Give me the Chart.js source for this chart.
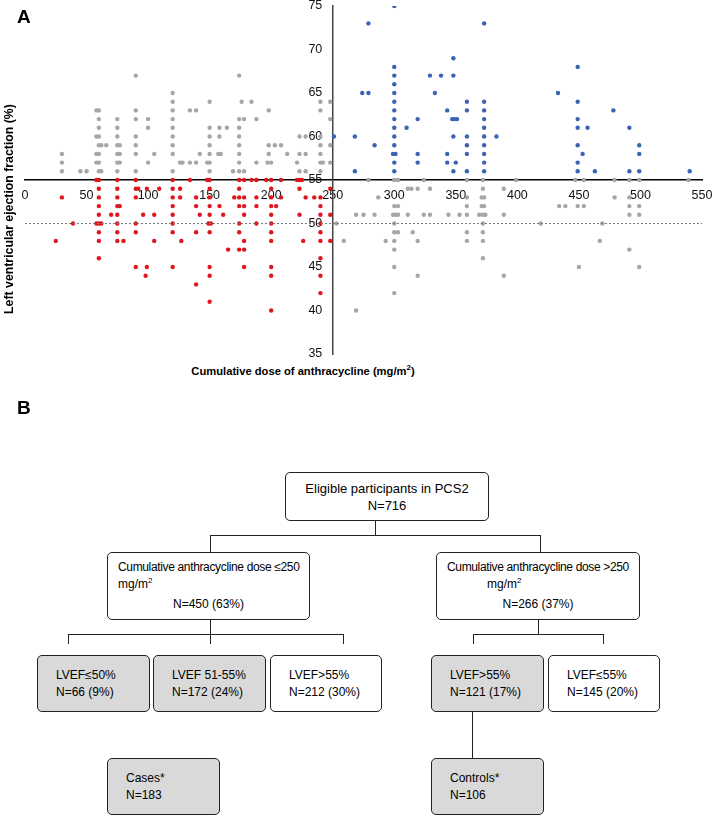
<!DOCTYPE html>
<html>
<head>
<meta charset="utf-8">
<script src="https://cdn.jsdelivr.net/npm/chart.js@4.4.1/dist/chart.umd.min.js"></script>
<style>
  body { margin: 0; background: #fff; font-family: "Liberation Sans", Arial, sans-serif; }
  #page { position: relative; width: 714px; height: 827px; overflow: hidden; }
  #chartBox { position: absolute; left: 0; top: 0; width: 714px; height: 362px; }
  .panel { position: absolute; font-weight: bold; font-size: 19px; }
  .ytitle { position: absolute; left: 9px; top: 209px; transform: translate(-50%, -50%) rotate(-90deg);
            white-space: nowrap; font-weight: bold; font-size: 12.3px; }
  .xtitle { position: absolute; left: 303px; top: 371px; transform: translate(-50%, -50%);
            white-space: nowrap; font-weight: bold; font-size: 11.2px; }
  sup { font-size: 8px; line-height: 0; vertical-align: 5px; }
  .box { position: absolute; box-sizing: border-box; border: 1px solid #222; border-radius: 5px;
         background: #fff; font-size: 12px; line-height: 17px; color: #000; white-space: nowrap;
         display: flex; flex-direction: column; justify-content: center; }
  .box.gray { background: #d9d9d9; }
  .box.center { align-items: center; text-align: center; }
  .box.left { padding-left: 18px; }
  .box.free { display: block; }
  .box.free div { position: absolute; }
  .tight { letter-spacing: -0.35px; }
  .ln { position: absolute; background: #222; }
</style>
</head>
<body>
<div id="page">
  <div id="chartBox"><canvas id="chart" width="714" height="362"></canvas></div>
  <div class="panel" style="left:17px; top:6px;">A</div>
  <div class="ytitle">Left ventricular ejection fraction (%)</div>
  <div class="xtitle">Cumulative dose of anthracycline (mg/m<sup>2</sup>)</div>

  <div class="panel" style="left:17px; top:397px;">B</div>

  <div class="box center" style="left:285px; top:472px; width:204px; height:49px; font-size:13px;">
    <div>Eligible participants in PCS2</div><div>N=716</div>
  </div>
  <div class="ln" style="left:375px; top:521px; width:1px; height:14px;"></div>
  <div class="ln" style="left:210px; top:535px; width:331px; height:1px;"></div>
  <div class="ln" style="left:210px; top:535px; width:1px; height:17px;"></div>
  <div class="ln" style="left:540px; top:535px; width:1px; height:17px;"></div>

  <div class="box free" style="left:107px; top:552px; width:203px; height:68px;">
    <div class="tight" style="left:10px; top:6px;">Cumulative anthracycline dose ≤250</div>
    <div style="left:10px; top:23px;">mg/m<sup>2</sup></div>
    <div style="left:0; width:201px; text-align:center; top:43px;">N=450 (63%)</div>
  </div>
  <div class="box free" style="left:436px; top:552px; width:204px; height:68px;">
    <div class="tight" style="left:10px; top:6px;">Cumulative anthracycline dose &gt;250</div>
    <div style="left:50px; top:23px;">mg/m<sup>2</sup></div>
    <div style="left:0; width:202px; text-align:center; top:43px;">N=266 (37%)</div>
  </div>

  <div class="ln" style="left:210px; top:620px; width:1px; height:14px;"></div>
  <div class="ln" style="left:68px; top:634px; width:276px; height:1px;"></div>
  <div class="ln" style="left:68px; top:634px; width:1px; height:10px;"></div>
  <div class="ln" style="left:210px; top:634px; width:1px; height:10px;"></div>
  <div class="ln" style="left:343px; top:634px; width:1px; height:10px;"></div>

  <div class="ln" style="left:538px; top:620px; width:1px; height:14px;"></div>
  <div class="ln" style="left:473px; top:634px; width:131px; height:1px;"></div>
  <div class="ln" style="left:473px; top:634px; width:1px; height:10px;"></div>
  <div class="ln" style="left:603px; top:634px; width:1px; height:10px;"></div>

  <div class="box gray left" style="left:37px; top:655px; width:113px; height:57px;">
    <div>LVEF≤50%</div><div>N=66 (9%)</div>
  </div>
  <div class="box gray left" style="left:153px; top:655px; width:113px; height:57px;">
    <div>LVEF 51-55%</div><div>N=172 (24%)</div>
  </div>
  <div class="box left" style="left:270px; top:655px; width:112px; height:57px;">
    <div>LVEF&gt;55%</div><div>N=212 (30%)</div>
  </div>
  <div class="box gray left" style="left:431px; top:655px; width:113px; height:57px;">
    <div>LVEF&gt;55%</div><div>N=121 (17%)</div>
  </div>
  <div class="box left" style="left:548px; top:655px; width:112px; height:57px;">
    <div>LVEF≤55%</div><div>N=145 (20%)</div>
  </div>

  <div class="ln" style="left:472px; top:712px; width:1px; height:46px;"></div>

  <div class="box gray left" style="left:107px; top:758px; width:113px; height:57px;">
    <div>Cases*</div><div>N=183</div>
  </div>
  <div class="box gray left" style="left:431px; top:758px; width:113px; height:57px;">
    <div>Controls*</div><div>N=106</div>
  </div>
</div>

<script>
// axis settings
const xMin = 0, xMax = 550, xStep = 50;
const yMin = 35, yMax = 75, yStep = 5;
const doseCut = 250;     // vertical axis crosses here
const lvefCut = 55;      // horizontal axis crosses here
const lvefRefLine = 50;  // dotted line

// dose <=250, LVEF >55  (grey)
const lowDoseHighEF = [
  [30,56],[30,57],[30,58],[45,56],[50,56],
  [58,63],[60,63],[60,62],[60,61],[58,60],[60,60],[60,59],[62,59],[66,59],[58,58],[60,58],[58,57],[60,57],[60,56],[62,56],
  [75,62],[75,61],[75,60],[75,59],[77,59],[75,58],[77,58],[75,57],[77,57],[75,56],
  [90,67],[90,63],[90,62],[90,60],[90,59],[90,58],[90,56],
  [100,62],[100,61],[100,57],[105,58],
  [120,65],[120,64],[120,63],[120,62],[120,61],[120,60],[120,59],[120,58],[120,56],
  [126,57],[128,57],[134,63],[139,63],[134,57],[139,57],[142,58],
  [150,64],[150,61],[150,60],[150,59],[150,58],[148,57],[150,57],[150,56],
  [158,61],[158,60],[157,58],[159,58],[164,61],[169,56],
  [174,67],[174,62],[174,61],[174,60],[174,59],[174,58],[174,57],[174,56],[176,64],[178,62],[178,56],
  [184,64],[188,62],[188,57],
  [198,63],[198,59],[198,58],[197,57],[200,57],[203,59],[208,59],[213,58],[221,57],
  [223,60],[228,60],[223,58],[228,58],[223,56],[228,56],
  [240,64],[240,63],[240,60],[240,59],[240,58],[240,57],[242,57],[240,56],
  [248,64],[248,62],[248,59],[248,57]
];

// dose <=250, LVEF <=55  (red)
const lowDoseLowEF = [
  [25,48],[30,53],[39,50],
  [58,55],[60,55],[60,54],[60,53],[60,52],[60,51],[58,50],[60,50],[62,50],[60,49],[60,48],[60,46],
  [70,51],
  [75,55],[75,54],[75,53],[75,52],[77,52],[75,51],[75,50],[75,49],[75,48],[80,48],
  [90,55],[90,54],[92,54],[90,53],[90,50],[90,49],[90,45],
  [96,51],[99,54],[99,45],[98,44],[105,51],[105,48],[109,54],
  [120,55],[120,54],[120,53],[120,52],[120,51],[120,50],[120,49],[120,45],
  [126,54],[126,53],[127,48],
  [134,55],[139,53],[139,52],[139,49],[139,43],[142,51],
  [148,55],[150,55],[150,54],[150,53],[150,52],[150,51],[149,50],[151,50],[150,49],[150,45],[150,44],[150,41],
  [158,52],[161,51],[165,47],[170,53],
  [174,55],[174,54],[174,53],[174,52],[174,50],[174,49],[174,47],
  [178,55],[178,53],[178,52],[178,51],[178,48],[178,47],[178,45],
  [184,55],[188,55],[188,53],[188,52],[188,50],
  [196,55],[200,55],[200,54],[200,53],[200,52],[204,52],[200,51],[200,50],[200,49],[200,48],[200,45],[200,44],[200,40],
  [208,55],[208,53],
  [221,55],[223,55],[225,55],[223,54],[223,51],[226,48],[228,53],[235,53],
  [240,53],[240,52],[240,51],[240,50],[240,49],[240,48],[240,46],[240,44],[240,42],
  [248,54],[248,51],[248,48]
];

// dose >250, LVEF >55  (blue)
const highDoseHighEF = [
  [251,60],[268,60],[268,56],[274,65],[279,73],[279,65],[284,59],
  [300,75],[300,68],[300,67],[300,66],[300,65],[300,64],[300,63],[300,62],[300,61],[300,60],[300,59],[299,58],[301,58],[300,57],[300,56],
  [310,61],[319,62],[319,58],[319,57],[329,67],[333,65],[338,67],
  [343,63],[343,58],[343,57],[347,62],[348,69],[348,67],[348,60],[348,56],[349,62],[351,62],[350,57],
  [359,64],[359,63],[359,60],[359,59],[359,58],[359,56],
  [373,73],[373,64],[373,63],[373,62],[373,61],[373,60],[373,59],[373,58],[373,57],[373,56],
  [383,60],[433,65],
  [449,68],[449,64],[449,62],[449,61],[449,59],[449,57],[449,56],[453,58],[457,61],[463,56],
  [478,63],[491,61],[491,56],[499,59],[499,58],[499,56],[540,56]
];

// dose >250, LVEF <=55  (grey)
const highDoseLowEF = [
  [253,50],[259,48],[269,51],[275,51],[279,55],[284,51],[287,53],[293,48],[269,40],
  [300,55],[300,52],[299,51],[301,51],[300,50],[300,49],[300,48],[300,47],[300,45],[300,42],
  [303,55],[303,52],[303,51],[303,49],
  [311,54],[314,54],[319,54],[311,51],[315,49],[319,48],[319,44],
  [324,55],[324,51],[329,54],[329,51],[344,51],[353,51],
  [359,55],[359,53],[359,52],[359,51],[359,49],[359,48],
  [372,55],[372,54],[371,53],[373,53],[371,52],[373,52],[369,51],[372,51],[374,51],[372,50],[372,49],[372,48],[372,46],
  [389,54],[389,51],[389,44],[399,55],[419,50],[434,52],[439,52],[447,55],[449,52],[454,55],[454,52],[450,45],
  [467,48],[469,50],[479,55],[479,53],[491,55],[491,53],[491,52],[491,51],[491,47],
  [499,55],[499,52],[499,51],[499,45],[539,55]
];

const grey = "#a6a6a6";
const red = "#e0161f";
const blue = "#3b63b5";
const tickFont = { family: "'Liberation Sans', Arial, sans-serif", size: 12.5 };

function toPts(arr) {
  return arr.map(p => ({ x: p[0], y: p[1] }));
}

function dots(arr, color) {
  return {
    type: "scatter",
    data: toPts(arr),
    backgroundColor: color,
    borderWidth: 0,
    pointRadius: 2.2,
    pointHoverRadius: 2.2
  };
}

// axes sit inside the plot, so they should not eat any layout space
function noSpace(s) {
  s.width = s.isHorizontal() ? s.width : 0;
  s.height = s.isHorizontal() ? 0 : s.height;
  s.paddingLeft = 0; s.paddingRight = 0; s.paddingTop = 0; s.paddingBottom = 0;
}

const chart = new Chart(document.getElementById("chart"), {
  type: "scatter",
  data: {
    datasets: [
      {
        type: "line",
        data: [{ x: xMin, y: lvefRefLine }, { x: xMax, y: lvefRefLine }],
        borderColor: "#7a7a7a",
        borderWidth: 1,
        borderDash: [2, 2],
        pointRadius: 0,
        fill: false
      },
      dots(lowDoseHighEF, grey),
      dots(highDoseLowEF, grey),
      dots(lowDoseLowEF, red),
      dots(highDoseHighEF, blue)
    ]
  },
  options: {
    responsive: false,
    animation: false,
    layout: { padding: { left: 25, right: 12, top: 6, bottom: 8 } },
    plugins: { legend: { display: false }, tooltip: { enabled: false } },
    scales: {
      x: {
        type: "linear",
        min: xMin, max: xMax,
        position: { y: lvefCut },
        grid: { display: false, drawTicks: false },
        border: { display: true, color: "#000", width: 1.5 },
        ticks: { stepSize: xStep, padding: 8, color: "#111", maxRotation: 0, autoSkip: false, font: tickFont },
        afterFit: noSpace
      },
      y: {
        type: "linear",
        min: yMin, max: yMax,
        position: { x: doseCut },
        grid: { display: false, drawTicks: false },
        border: { display: true, color: "#444", width: 1.5 },
        ticks: {
          stepSize: yStep, color: "#111", autoSkip: false, font: tickFont,
          // keep a gap between label and axis line
          callback: v => v + "   "
        },
        afterFit: noSpace
      }
    }
  }
});
</script>
</body>
</html>
